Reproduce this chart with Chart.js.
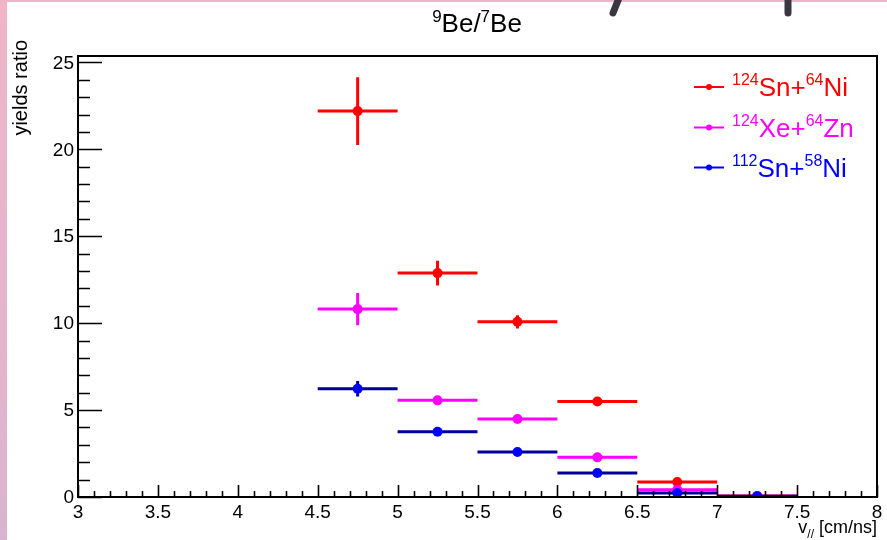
<!DOCTYPE html>
<html>
<head>
<meta charset="utf-8">
<script src="https://cdn.jsdelivr.net/npm/chart.js@4.4.1/dist/chart.umd.min.js"></script>
<style>
  html, body { margin: 0; padding: 0; background: #fff; }
  canvas { display: block; }
</style>
</head>
<body>
<canvas id="c" width="887" height="540"></canvas>
<script>
// bin centres (bin width 0.5 cm/ns)
const binCentres = [4.75, 5.25, 5.75, 6.25, 6.75, 7.25];
const binHalfWidth = 0.25;

// 9Be/7Be yield ratio per system
const snNi124 = [22.2, 12.88, 10.08, 5.49, 0.86, 0.06];
const snNi124Err = [1.95, 0.71, 0.38, 0.15, 0.08, 0.03];
const xeZn124 = [10.81, 5.56, 4.49, 2.28, 0.42, 0.05];
const xeZn124Err = [0.93, 0.18, 0.12, 0.08, 0.05, 0.03];
const snNi112 = [6.23, 3.75, 2.59, 1.38, 0.23, 0.04];
const snNi112Err = [0.45, 0.12, 0.08, 0.05, 0.04, 0.02];

const xTicks = [3, 3.5, 4, 4.5, 5, 5.5, 6, 6.5, 7, 7.5, 8];
const xTickLabels = ["3", "3.5", "4", "4.5", "5", "5.5", "6", "6.5", "7", "7.5", "8"];
const yTicks = [0, 5, 10, 15, 20, 25];
const yTickLabels = ["0", "5", "10", "15", "20", "25"];

const FONT = '"Liberation Sans", Arial, Helvetica, sans-serif';

function toPoints(ys) {
    return binCentres.map((x, i) => ({ x: x, y: ys[i] }));
}

const series = [
    { name: [["124", true], ["Sn+", false], ["64", true], ["Ni", false]],
      values: snNi124, errs: snNi124Err, marker: "#ff0000", line: "#ff0000", legendLine: "#ff0000" },
    { name: [["124", true], ["Xe+", false], ["64", true], ["Zn", false]],
      values: xeZn124, errs: xeZn124Err, marker: "#ff00ff", line: "#ff00ff", legendLine: "#ff00ff" },
    { name: [["112", true], ["Sn+", false], ["58", true], ["Ni", false]],
      values: snNi112, errs: snNi112Err, marker: "#0000ff", line: "#000099", legendLine: "#0000ff" }
];

// rich text with superscripts / subscripts
function richWidth(ctx, parts, size, small) {
    let w = 0;
    parts.forEach(p => {
        ctx.font = (p[1] ? small : size) + "px " + FONT;
        w += ctx.measureText(p[0]).width;
    });
    return w;
}

function drawRich(ctx, parts, x, y, size, small, shift, align, color) {
    let w = richWidth(ctx, parts, size, small);
    let cx = x;
    if (align === "center") cx = x - w / 2;
    if (align === "right") cx = x - w;
    ctx.fillStyle = color;
    ctx.textAlign = "left";
    ctx.textBaseline = "alphabetic";
    parts.forEach(p => {
        ctx.font = (p[1] ? small : size) + "px " + FONT;
        ctx.fillText(p[0], cx, p[1] ? y + shift : y);
        cx += ctx.measureText(p[0]).width;
    });
}

const decoPlugin = {
    id: "deco",
    beforeDraw(chart) {
        const ctx = chart.ctx;
        ctx.save();
        ctx.fillStyle = "#ffffff";
        ctx.fillRect(0, 0, chart.width, chart.height);
        let g = ctx.createLinearGradient(0, 0, 0, chart.height);
        g.addColorStop(0, "#f0b6c8");
        g.addColorStop(1, "#dab4d0");
        ctx.fillStyle = g;
        ctx.fillRect(0, 0, 7, chart.height);
        ctx.fillStyle = "#f0b6c8";
        ctx.fillRect(0, 0, chart.width, 2);
        // bits of a dark drawing cut off at the top
        ctx.strokeStyle = "#3b3742";
        ctx.lineCap = "round";
        ctx.lineWidth = 7;
        ctx.beginPath();
        ctx.moveTo(619, -2);
        ctx.lineTo(613, 13);
        ctx.moveTo(788, -2);
        ctx.lineTo(788, 13);
        ctx.stroke();
        ctx.restore();
    }
};

const errorBarPlugin = {
    id: "errorBars",
    beforeDatasetDraw(chart, args) {
        const s = series[args.index];
        const xs = chart.scales.x, ys = chart.scales.y;
        const ctx = chart.ctx;
        ctx.save();
        ctx.strokeStyle = s.line;
        ctx.lineWidth = 3;
        ctx.lineCap = "butt";
        binCentres.forEach((x, i) => {
            const y = s.values[i];
            const py = ys.getPixelForValue(y);
            ctx.beginPath();
            ctx.moveTo(xs.getPixelForValue(x - binHalfWidth), py);
            ctx.lineTo(xs.getPixelForValue(x + binHalfWidth), py);
            const px = xs.getPixelForValue(x);
            ctx.moveTo(px, ys.getPixelForValue(y + s.errs[i]));
            ctx.lineTo(px, ys.getPixelForValue(Math.max(0, y - s.errs[i])));
            ctx.stroke();
        });
        ctx.restore();
    }
};

const framePlugin = {
    id: "frame",
    afterDraw(chart) {
        const ctx = chart.ctx;
        const a = chart.chartArea;
        const xs = chart.scales.x, ys = chart.scales.y;
        ctx.save();
        ctx.strokeStyle = "#000";
        ctx.lineWidth = 2;
        ctx.strokeRect(a.left, a.top, a.right - a.left, a.bottom - a.top);

        // x ticks: major every 0.5, minor every 0.1, pointing inward
        ctx.lineWidth = 1.6;
        ctx.beginPath();
        for (let k = 0; k <= 50; k++) {
            const v = 3 + k * 0.1;
            const px = Math.round(xs.getPixelForValue(v)) + 0.5;
            const len = (k % 5 === 0) ? 12 : 6;
            ctx.moveTo(px, a.bottom);
            ctx.lineTo(px, a.bottom - len);
        }
        // y ticks: major every 5, minor every 1
        for (let v = 0; v <= 25; v++) {
            const py = Math.round(ys.getPixelForValue(v)) + 0.5;
            const len = (v % 5 === 0) ? 24 : 12;
            ctx.moveTo(a.left, py);
            ctx.lineTo(a.left + len, py);
        }
        ctx.stroke();

        // tick labels
        ctx.fillStyle = "#000";
        ctx.font = "19px " + FONT;
        ctx.textAlign = "center";
        ctx.textBaseline = "alphabetic";
        xTicks.forEach((v, i) => {
            ctx.fillText(xTickLabels[i], xs.getPixelForValue(v), 518);
        });
        ctx.textAlign = "right";
        ctx.textBaseline = "middle";
        yTicks.forEach((v, i) => {
            ctx.fillText(yTickLabels[i], 74, ys.getPixelForValue(v) + 1);
        });

        // axis titles
        ctx.save();
        ctx.translate(27, 40);
        ctx.rotate(-Math.PI / 2);
        ctx.font = "20px " + FONT;
        ctx.textAlign = "right";
        ctx.textBaseline = "alphabetic";
        ctx.fillText("yields ratio", 0, 0);
        ctx.restore();

        drawRich(ctx, [["v", false], ["//", true], [" [cm/ns]", false]], 877, 533, 18, 12, 5, "right", "#000");

        // title
        drawRich(ctx, [["9", true], ["Be/", false], ["7", true], ["Be", false]], 477, 32, 26, 17, -10, "center", "#000");

        // legend
        const rows = [87, 127.5, 167.5];
        series.forEach((s, i) => {
            const y = rows[i];
            ctx.strokeStyle = s.legendLine;
            ctx.lineWidth = 2;
            ctx.beginPath();
            ctx.moveTo(694, y);
            ctx.lineTo(724, y);
            ctx.stroke();
            ctx.fillStyle = s.marker;
            ctx.beginPath();
            ctx.arc(709, y, 3, 0, Math.PI * 2);
            ctx.fill();
            drawRich(ctx, s.name, 732, y + 9, 26, 16, -11, "left", s.marker);
        });
        ctx.restore();
    }
};

new Chart(document.getElementById("c"), {
    type: "scatter",
    data: {
        datasets: series.map((s, i) => ({
            label: s.name.map(p => p[0]).join(""),
            data: toPoints(s.values),
            pointRadius: 5,
            pointHoverRadius: 5,
            pointBackgroundColor: s.marker,
            pointBorderColor: s.marker,
            pointBorderWidth: 0,
            showLine: false,
            order: 3 - i
        }))
    },
    options: {
        responsive: false,
        animation: false,
        events: [],
        layout: { padding: { left: 78, right: 10, top: 56, bottom: 43 } },
        scales: {
            x: { type: "linear", min: 3, max: 8, display: false },
            y: { type: "linear", min: 0, max: 25.37, display: false }
        },
        plugins: {
            legend: { display: false },
            tooltip: { enabled: false },
            title: { display: false }
        }
    },
    plugins: [decoPlugin, errorBarPlugin, framePlugin]
});
</script>
</body>
</html>
